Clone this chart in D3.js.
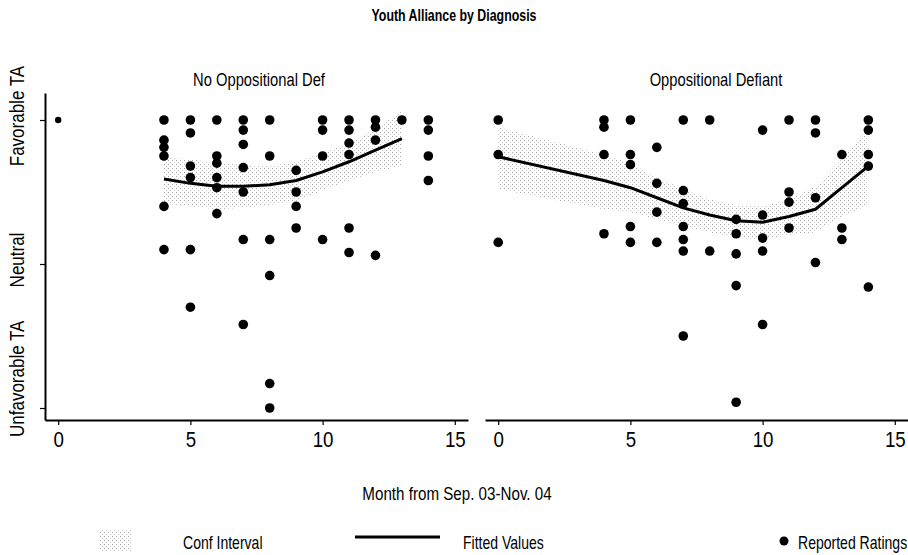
<!DOCTYPE html>
<html>
<head>
<meta charset="utf-8">
<script src="https://cdn.jsdelivr.net/npm/d3@7"></script>
<style>
  body { margin: 0; background: #fff; }
  svg text { font-family: "Liberation Sans", Arial, sans-serif; fill: #000; }
</style>
</head>
<body>
<svg id="chart" width="908" height="555"></svg>
<script>
// Data
const panelTitles = ["No Oppositional Def", "Oppositional Defiant"];
const xTicks = [0, 5, 10, 15];
const yTicks = [1, 2, 3];
const yTickLabels = ["Unfavorable TA", "Neutral", "Favorable TA"];

// reported ratings: [month, rating] (1 = unfavorable, 2 = neutral, 3 = favorable)
const ratingsNoOdd = [
    [0, 3],
    [4, 3], [4, 2.86], [4, 2.81], [4, 2.75], [4, 2.40], [4, 2.10],
    [5, 3], [5, 2.91], [5, 2.68], [5, 2.60], [5, 2.10], [5, 1.70],
    [6, 3], [6, 2.75], [6, 2.70], [6, 2.60], [6, 2.53], [6, 2.35],
    [7, 3], [7, 2.93], [7, 2.83], [7, 2.67], [7, 2.50], [7, 2.17], [7, 1.58],
    [8, 3], [8, 2.75], [8, 2.17], [8, 1.92], [8, 1.17], [8, 1.0],
    [9, 2.65], [9, 2.50], [9, 2.40], [9, 2.25],
    [10, 3], [10, 2.93], [10, 2.75], [10, 2.17],
    [11, 3], [11, 2.93], [11, 2.84], [11, 2.76], [11, 2.25], [11, 2.08],
    [12, 3], [12, 2.95], [12, 2.86], [12, 2.06],
    [13, 3],
    [14, 3], [14, 2.93], [14, 2.75], [14, 2.58]
];
const ratingsOdd = [
    [0, 3], [0, 2.76], [0, 2.15],
    [4, 3], [4, 2.95], [4, 2.76], [4, 2.21],
    [5, 3], [5, 2.76], [5, 2.69], [5, 2.26], [5, 2.15],
    [6, 2.81], [6, 2.56], [6, 2.36], [6, 2.15],
    [7, 3], [7, 2.51], [7, 2.42], [7, 2.26], [7, 2.17], [7, 2.09], [7, 1.50],
    [8, 3], [8, 2.09],
    [9, 2.31], [9, 2.21], [9, 2.07], [9, 1.85], [9, 1.04],
    [10, 2.93], [10, 2.34], [10, 2.18], [10, 2.09], [10, 1.58],
    [11, 3], [11, 2.50], [11, 2.43], [11, 2.25],
    [12, 3], [12, 2.91], [12, 2.46], [12, 2.01],
    [13, 2.76], [13, 2.25], [13, 2.17],
    [14, 3], [14, 2.93], [14, 2.76], [14, 2.68], [14, 1.84]
];

// fitted values and confidence interval
const fitMonthsNoOdd = [4, 5, 6, 7, 8, 9, 10, 11, 12, 13];
const fitNoOdd = [2.59, 2.56, 2.54, 2.54, 2.55, 2.58, 2.64, 2.71, 2.79, 2.87];
const ciLowNoOdd = [2.42, 2.40, 2.38, 2.39, 2.41, 2.44, 2.51, 2.58, 2.64, 2.68];
const ciHighNoOdd = [2.74, 2.73, 2.70, 2.69, 2.68, 2.71, 2.77, 2.84, 2.94, 3.06];

const fitMonthsOdd = [0, 4, 5, 6, 7, 8, 9, 10, 11, 12, 13, 14];
const fitOdd = [2.745, 2.58, 2.53, 2.46, 2.39, 2.34, 2.30, 2.29, 2.33, 2.38, 2.53, 2.68];
const ciLowOdd = [2.52, 2.38, 2.36, 2.31, 2.26, 2.22, 2.18, 2.17, 2.20, 2.22, 2.33, 2.41];
const ciHighOdd = [2.95, 2.76, 2.70, 2.60, 2.52, 2.45, 2.41, 2.40, 2.45, 2.54, 2.73, 2.95];

const legendLabels = ["Conf Interval", "Fitted Values", "Reported Ratings"];

const svg = d3.select("#chart");

// condensed text: scale horizontally, the fonts here have no narrow face
function label(parent, x, yy, txt, size, opts = {}) {
    const sx = opts.sx || 0.84;
    const rot = opts.rotate ? ` rotate(${opts.rotate})` : "";
    return parent.append("text")
        .attr("transform", `translate(${x},${yy})${rot} scale(${sx},1)`)
        .attr("text-anchor", opts.anchor || "start")
        .style("font-size", size + "px")
        .style("font-weight", opts.bold ? "bold" : null)
        .text(txt);
}

// stipple pattern for the confidence band
const defs = svg.append("defs");
const pat = defs.append("pattern")
    .attr("id", "stipple")
    .attr("patternUnits", "userSpaceOnUse")
    .attr("width", 4).attr("height", 4);
pat.append("rect").attr("x", 0).attr("y", 0).attr("width", 1).attr("height", 1).attr("fill", "#a8a8a8");
pat.append("rect").attr("x", 2).attr("y", 2).attr("width", 1).attr("height", 1).attr("fill", "#c4c4c4");

// Title
label(svg, 454, 21, "Youth Alliance by Diagnosis", 16.5, {anchor: "middle", bold: true, sx: 0.75});

const y = d3.scaleLinear().domain([0.9167, 3.1875]).range([420, 93]);

const panels = [
    {title: panelTitles[0], range: [45, 468], titleX: 259, ratings: ratingsNoOdd,
     fm: fitMonthsNoOdd, fit: fitNoOdd, lo: ciLowNoOdd, hi: ciHighNoOdd, yAxis: true},
    {title: panelTitles[1], range: [485, 908], titleX: 716, ratings: ratingsOdd,
     fm: fitMonthsOdd, fit: fitOdd, lo: ciLowOdd, hi: ciHighOdd, yAxis: false}
];

panels.forEach(p => {
    const x = d3.scaleLinear().domain([-0.5, 15.5]).range(p.range);
    const g = svg.append("g");

    label(g, p.titleX, 86, p.title, 18, {anchor: "middle", sx: 0.82});

    // conf interval
    const band = p.fm.map((m, i) => ({m: m, lo: p.lo[i], hi: p.hi[i]}));
    g.append("path")
        .datum(band)
        .attr("fill", "url(#stipple)")
        .attr("d", d3.area().x(d => x(d.m)).y0(d => y(d.lo)).y1(d => y(d.hi)));

    // fitted line
    g.append("path")
        .datum(p.fm.map((m, i) => [m, p.fit[i]]))
        .attr("fill", "none")
        .attr("stroke", "#000")
        .attr("stroke-width", 3)
        .attr("stroke-linejoin", "round")
        .attr("d", d3.line().x(d => x(d[0])).y(d => y(d[1])));

    // points
    g.selectAll("circle")
        .data(p.ratings)
        .enter()
        .append("circle")
        .attr("cx", d => x(d[0]))
        .attr("cy", d => y(d[1]))
        .attr("r", d => (p.yAxis && d[0] === 0) ? 3.2 : 4.8)
        .attr("fill", "#000");

    // x axis
    const xa = g.append("g")
        .attr("transform", "translate(0,420)")
        .call(d3.axisBottom(x).tickValues(xTicks).tickSize(5).tickSizeOuter(0).tickPadding(6));
    xa.select(".domain").attr("stroke-width", 2);
    xa.selectAll(".tick line").attr("stroke-width", 1.2);
    xa.selectAll(".tick text")
        .attr("transform", "scale(0.85,1)")
        .style("font-family", "'Liberation Sans', sans-serif")
        .style("font-size", "22px");

    if (p.yAxis) {
        const ya = g.append("g")
            .attr("transform", `translate(${p.range[0]},0)`)
            .call(d3.axisLeft(y).tickValues(yTicks).tickSize(5).tickSizeOuter(0).tickFormat(""));
        ya.select(".domain").attr("stroke-width", 2);
        ya.selectAll(".tick line").attr("stroke-width", 1.2);

        yTicks.forEach((d, i) => {
            const yy = d === 1 ? 437 : y(d) - 4;
            label(g, 24, yy, yTickLabels[i], 20,
                {rotate: -90, anchor: d === 1 ? "start" : "middle", sx: 0.85});
        });
    }
});

// x axis title
label(svg, 457, 500, "Month from Sep. 03-Nov. 04", 18.5, {anchor: "middle", sx: 0.82});

// Legend
const lg = svg.append("g");
lg.append("rect")
    .attr("x", 100).attr("y", 530).attr("width", 31).attr("height", 22)
    .attr("fill", "url(#stipple)");
lg.append("line")
    .attr("x1", 355).attr("x2", 440).attr("y1", 537).attr("y2", 537)
    .attr("stroke", "#000").attr("stroke-width", 3);
lg.append("circle")
    .attr("cx", 784).attr("cy", 541).attr("r", 4.5).attr("fill", "#000");
const legendX = [183, 463, 798];
legendLabels.forEach((d, i) => label(lg, legendX[i], 549, d, 18, {sx: 0.78}));
</script>
</body>
</html>
